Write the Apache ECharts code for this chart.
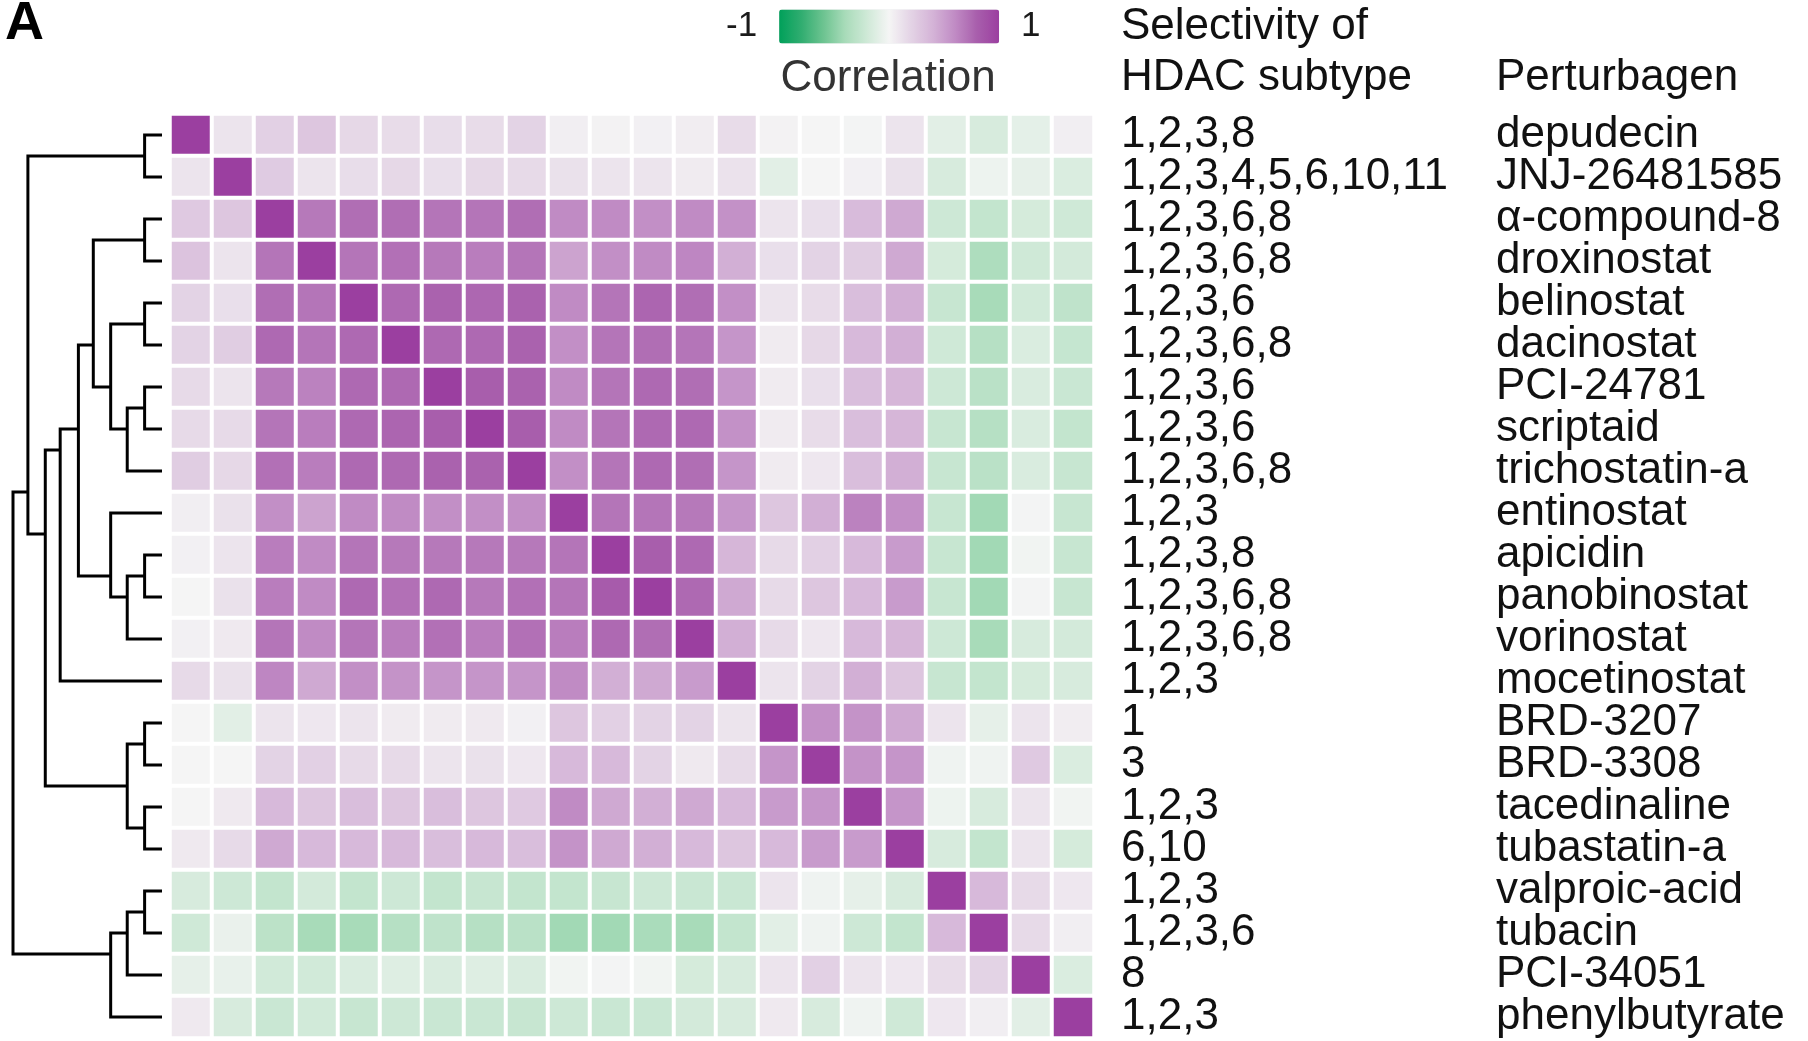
<!DOCTYPE html>
<html>
<head>
<meta charset="utf-8">
<title>HDAC perturbagen correlation</title>
<script src="https://cdn.jsdelivr.net/npm/echarts@6/dist/echarts.min.js"></script>
<style>
  html, body { margin: 0; padding: 0; background: #fff; }
  #chart { width: 1808px; height: 1041px; }
</style>
</head>
<body>
<div id="chart"></div>
<script>
// rows / columns in dendrogram order, top to bottom
const perturbagens = [
  'depudecin', 'JNJ-26481585', 'α-compound-8', 'droxinostat', 'belinostat',
  'dacinostat', 'PCI-24781', 'scriptaid', 'trichostatin-a', 'entinostat',
  'apicidin', 'panobinostat', 'vorinostat', 'mocetinostat', 'BRD-3207',
  'BRD-3308', 'tacedinaline', 'tubastatin-a', 'valproic-acid', 'tubacin',
  'PCI-34051', 'phenylbutyrate'
];
const selectivity = [
  '1,2,3,8', '1,2,3,4,5,6,10,11', '1,2,3,6,8', '1,2,3,6,8', '1,2,3,6',
  '1,2,3,6,8', '1,2,3,6', '1,2,3,6', '1,2,3,6,8', '1,2,3',
  '1,2,3,8', '1,2,3,6,8', '1,2,3,6,8', '1,2,3', '1',
  '3', '1,2,3', '6,10', '1,2,3', '1,2,3,6',
  '8', '1,2,3'
];

// correlation matrix, read row by row
const corr = [
  [1.00, 0.10, 0.22, 0.28, 0.17, 0.15, 0.14, 0.15, 0.20, 0.04, 0.02, 0.03, 0.05, 0.15, 0.02, 0.00, -0.01, 0.10, -0.10, -0.16, -0.09, 0.04],
  [0.10, 1.00, 0.25, 0.10, 0.14, 0.17, 0.13, 0.17, 0.16, 0.12, 0.10, 0.10, 0.06, 0.11, -0.10, 0.00, 0.03, 0.12, -0.16, -0.04, -0.08, -0.14],
  [0.26, 0.28, 1.00, 0.68, 0.73, 0.73, 0.70, 0.70, 0.73, 0.60, 0.60, 0.58, 0.60, 0.57, 0.10, 0.13, 0.35, 0.45, -0.21, -0.26, -0.17, -0.20],
  [0.30, 0.10, 0.70, 1.00, 0.70, 0.72, 0.68, 0.66, 0.70, 0.48, 0.58, 0.60, 0.62, 0.42, 0.13, 0.20, 0.24, 0.45, -0.17, -0.37, -0.20, -0.18],
  [0.20, 0.13, 0.73, 0.70, 1.00, 0.75, 0.78, 0.76, 0.78, 0.60, 0.70, 0.77, 0.73, 0.58, 0.10, 0.15, 0.33, 0.42, -0.24, -0.40, -0.19, -0.28],
  [0.20, 0.24, 0.75, 0.70, 0.75, 1.00, 0.75, 0.75, 0.78, 0.58, 0.70, 0.73, 0.70, 0.55, 0.06, 0.17, 0.36, 0.42, -0.20, -0.33, -0.14, -0.25],
  [0.16, 0.10, 0.68, 0.64, 0.75, 0.75, 1.00, 0.80, 0.78, 0.60, 0.70, 0.75, 0.73, 0.55, 0.06, 0.13, 0.33, 0.38, -0.21, -0.31, -0.15, -0.23],
  [0.16, 0.16, 0.70, 0.66, 0.75, 0.77, 0.80, 1.00, 0.80, 0.60, 0.70, 0.75, 0.75, 0.57, 0.06, 0.15, 0.33, 0.38, -0.24, -0.33, -0.15, -0.26],
  [0.24, 0.17, 0.72, 0.66, 0.75, 0.75, 0.78, 0.78, 1.00, 0.58, 0.70, 0.75, 0.73, 0.55, 0.06, 0.08, 0.33, 0.42, -0.24, -0.31, -0.15, -0.24],
  [0.04, 0.12, 0.58, 0.48, 0.60, 0.60, 0.58, 0.58, 0.58, 1.00, 0.70, 0.70, 0.68, 0.55, 0.28, 0.42, 0.64, 0.58, -0.24, -0.42, -0.01, -0.24],
  [0.03, 0.10, 0.66, 0.60, 0.70, 0.68, 0.68, 0.68, 0.68, 0.70, 1.00, 0.80, 0.75, 0.38, 0.16, 0.22, 0.36, 0.52, -0.24, -0.42, -0.02, -0.24],
  [0.00, 0.12, 0.66, 0.60, 0.75, 0.72, 0.75, 0.68, 0.72, 0.70, 0.82, 1.00, 0.75, 0.45, 0.16, 0.28, 0.36, 0.52, -0.24, -0.42, -0.01, -0.24],
  [0.03, 0.07, 0.70, 0.60, 0.70, 0.66, 0.72, 0.66, 0.72, 0.66, 0.75, 0.73, 1.00, 0.42, 0.16, 0.08, 0.36, 0.38, -0.21, -0.40, -0.16, -0.18],
  [0.16, 0.12, 0.62, 0.45, 0.58, 0.56, 0.55, 0.55, 0.55, 0.60, 0.42, 0.45, 0.52, 1.00, 0.10, 0.20, 0.42, 0.28, -0.24, -0.26, -0.17, -0.16],
  [0.00, -0.10, 0.10, 0.08, 0.10, 0.06, 0.06, 0.07, 0.03, 0.28, 0.22, 0.20, 0.20, 0.10, 1.00, 0.57, 0.56, 0.45, 0.10, -0.08, 0.10, 0.05],
  [0.00, 0.00, 0.20, 0.22, 0.16, 0.16, 0.10, 0.12, 0.08, 0.36, 0.36, 0.20, 0.07, 0.16, 0.55, 1.00, 0.56, 0.55, -0.03, -0.03, 0.26, -0.14],
  [0.00, 0.07, 0.36, 0.28, 0.33, 0.28, 0.33, 0.28, 0.26, 0.60, 0.45, 0.42, 0.45, 0.36, 0.52, 0.55, 1.00, 0.55, -0.04, -0.16, 0.10, -0.02],
  [0.07, 0.16, 0.45, 0.36, 0.36, 0.36, 0.33, 0.36, 0.33, 0.56, 0.45, 0.42, 0.36, 0.28, 0.36, 0.52, 0.52, 1.00, -0.16, -0.26, 0.10, -0.17],
  [-0.16, -0.21, -0.26, -0.18, -0.26, -0.21, -0.26, -0.24, -0.26, -0.26, -0.24, -0.21, -0.23, -0.23, 0.10, -0.03, -0.08, -0.16, 1.00, 0.36, 0.16, 0.08],
  [-0.20, -0.06, -0.30, -0.40, -0.40, -0.33, -0.28, -0.33, -0.31, -0.42, -0.42, -0.39, -0.40, -0.26, -0.10, -0.03, -0.21, -0.26, 0.36, 1.00, 0.16, 0.04],
  [-0.08, -0.07, -0.19, -0.19, -0.15, -0.12, -0.15, -0.12, -0.15, -0.02, -0.01, -0.02, -0.17, -0.16, 0.10, 0.22, 0.10, 0.08, 0.15, 0.20, 1.00, -0.14],
  [0.07, -0.16, -0.23, -0.19, -0.24, -0.21, -0.23, -0.23, -0.24, -0.21, -0.23, -0.23, -0.18, -0.16, 0.07, -0.16, -0.03, -0.20, 0.08, 0.04, -0.10, 1.00]
];

// hclust-like merges: negative = leaf row -(i+1), positive = earlier merge (1-based)
const mergePairs = [
  [-1, -2], [-3, -4], [-5, -6], [-7, -8], [4, -9], [3, 5], [2, 6],
  [-11, -12], [8, -13], [-10, 9], [7, 10], [11, -14],
  [-15, -16], [-17, -18], [13, 14], [12, 15], [1, 16],
  [-19, -20], [18, -21], [19, -22], [17, 20]
];
const mergeHeights = [
  1.05, 1.05, 1.05, 1.05, 2.1, 3.1, 4.15,
  1.05, 2.1, 3.1, 5.05, 6.15,
  1.05, 1.05, 2.1, 7.05, 8.1,
  1.05, 2.1, 3.1, 9.0
];

const corrColors = ['#00a05a', '#30ad70', '#6cc390', '#a8dbb9', '#cfe9d7', '#f5f5f5',
                    '#e3d3e5', '#d4b3d7', '#c08bc4', '#a85eac', '#9b3fa0'];

const FONT = "'Liberation Sans', Arial, Helvetica, sans-serif";

const heatData = [];
corr.forEach((row, i) => row.forEach((v, j) => heatData.push([j, i, v])));

// dendrogram links, cluster y = mean of its leaf rows
const nodes = [];
const links = [];
function child(id) {
  if (id < 0) return { y: -id - 1, h: 0, n: 1 };
  return nodes[id - 1];
}
mergePairs.forEach(([a, b], k) => {
  const ca = child(a), cb = child(b), h = mergeHeights[k];
  links.push({ coords: [[ca.h, ca.y], [h, ca.y], [h, cb.y], [cb.h, cb.y]] });
  nodes.push({ y: (ca.y * ca.n + cb.y * cb.n) / (ca.n + cb.n), h: h, n: ca.n + cb.n });
});

const rowLabel = {
  interval: 0, margin: 27, fontSize: 44, color: '#111', fontFamily: FONT,
  padding: [7, 0, 0, 0]
};

const chart = echarts.init(document.getElementById('chart'));
const option = {
  animation: false,
  backgroundColor: '#fff',
  grid: [
    { left: 170, top: 114, width: 924, height: 924 },
    { left: 13, top: 114, width: 149, height: 924 }
  ],
  xAxis: [
    { type: 'category', gridIndex: 0, data: perturbagens, show: false },
    { type: 'value', gridIndex: 1, min: 0, max: 9, inverse: true, show: false }
  ],
  yAxis: [
    {
      type: 'category', gridIndex: 0, data: perturbagens, inverse: true, position: 'right',
      axisLine: { show: false }, axisTick: { show: false },
      axisLabel: Object.assign({}, rowLabel, { formatter: (v, i) => selectivity[i] })
    },
    {
      type: 'category', gridIndex: 0, data: perturbagens, inverse: true, position: 'right', offset: 375,
      axisLine: { show: false }, axisTick: { show: false },
      axisLabel: rowLabel
    },
    { type: 'value', gridIndex: 1, min: -0.5, max: 21.5, inverse: true, show: false }
  ],
  visualMap: {
    type: 'continuous', seriesIndex: 0, min: -1, max: 1, orient: 'horizontal',
    left: 726, top: 9, padding: 0, itemWidth: 34, itemHeight: 220,
    text: ['1', '-1'], textGap: 22, calculable: false,
    inRange: { color: corrColors },
    textStyle: { fontSize: 35, color: '#1a1a1a', fontFamily: FONT }
  },
  graphic: [
    { type: 'text', x: 5, y: 24, style: { text: 'A', fontSize: 54, fontWeight: 'bold', fontFamily: FONT, fill: '#000', align: 'left', verticalAlign: 'middle' } },
    { type: 'text', x: 888, y: 79, style: { text: 'Correlation', fontSize: 44, fontFamily: FONT, fill: '#333', align: 'center', verticalAlign: 'middle' } },
    { type: 'text', x: 1121, y: 27, style: { text: 'Selectivity of', fontSize: 44, fontFamily: FONT, fill: '#111', align: 'left', verticalAlign: 'middle' } },
    { type: 'text', x: 1121, y: 78, style: { text: 'HDAC subtype', fontSize: 44, fontFamily: FONT, fill: '#111', align: 'left', verticalAlign: 'middle' } },
    { type: 'text', x: 1496, y: 78, style: { text: 'Perturbagen', fontSize: 44, fontFamily: FONT, fill: '#111', align: 'left', verticalAlign: 'middle' } }
  ],
  series: [
    {
      type: 'heatmap', xAxisIndex: 0, yAxisIndex: 0, data: heatData,
      itemStyle: { borderColor: '#fff', borderWidth: 4 },
      emphasis: { disabled: true }
    },
    {
      type: 'lines', coordinateSystem: 'cartesian2d', xAxisIndex: 1, yAxisIndex: 2,
      polyline: true, silent: true,
      lineStyle: { color: '#000', width: 3, opacity: 1 },
      data: links
    }
  ]
};
chart.setOption(option);
</script>
</body>
</html>
